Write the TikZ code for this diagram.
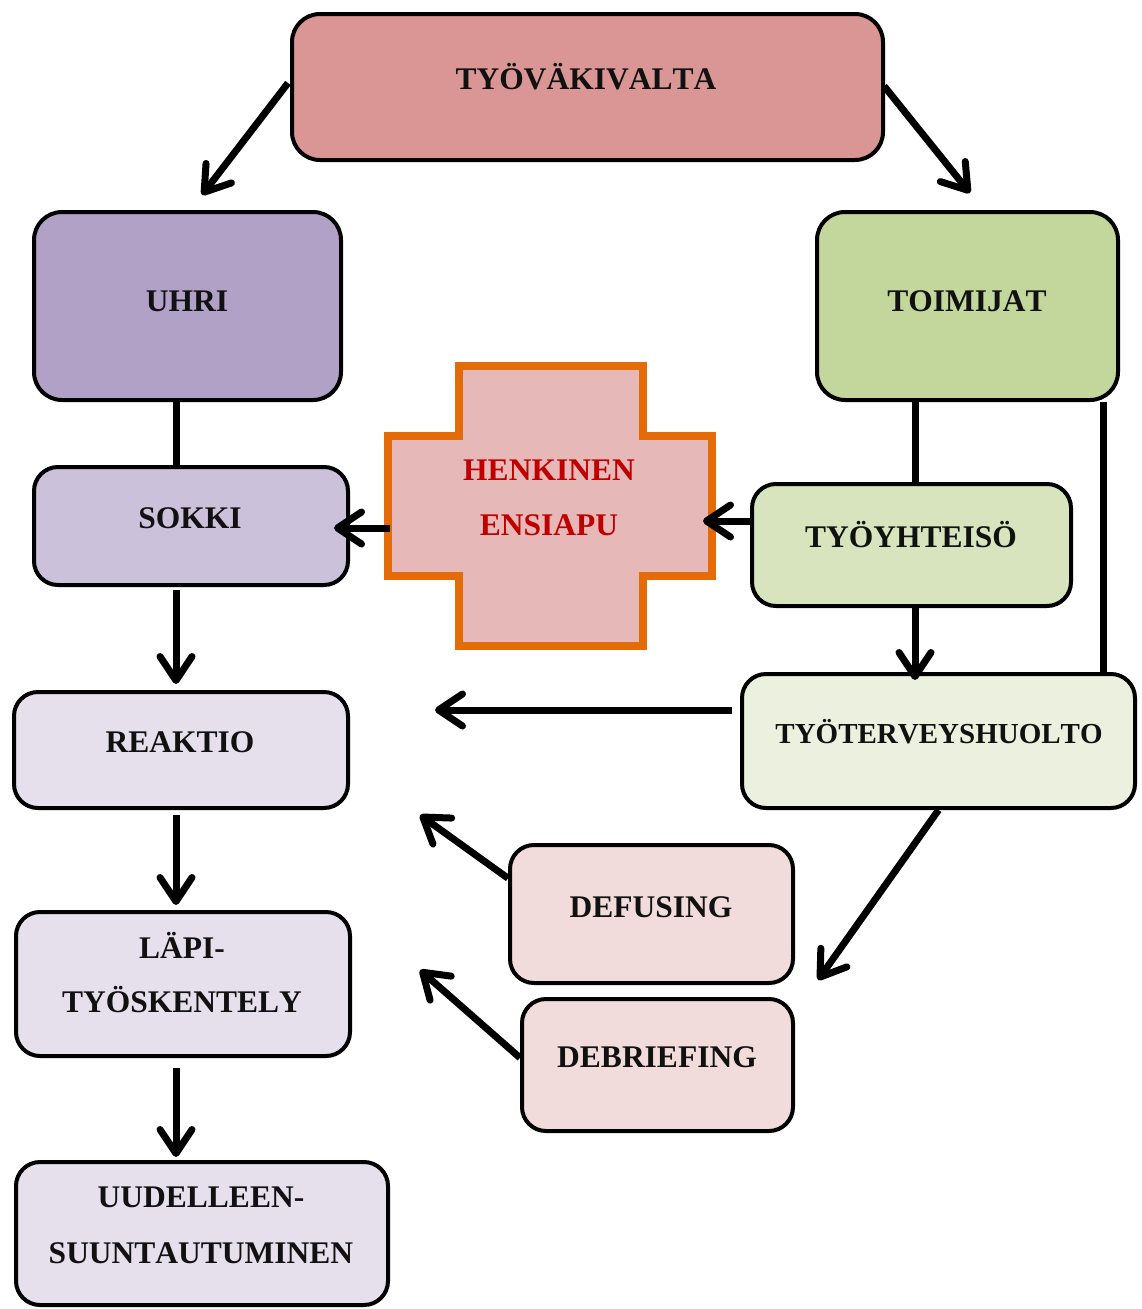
\documentclass[tikz,border=0pt]{standalone}
\usepackage{fontspec}
\setmainfont[Kerning=Off]{Liberation Serif}
\usetikzlibrary{arrows.meta,shadows}
\definecolor{cTop}{HTML}{DA9694}
\definecolor{cUhri}{HTML}{B2A1C7}
\definecolor{cToim}{HTML}{C3D69B}
\definecolor{cSokki}{HTML}{CCC1DA}
\definecolor{cTyoy}{HTML}{D7E4BD}
\definecolor{cTth}{HTML}{EBF1DE}
\definecolor{cLila}{HTML}{E5E0EC}
\definecolor{cRosa}{HTML}{F2DCDB}
\definecolor{cCross}{HTML}{E6B9B8}
\definecolor{cOrange}{HTML}{E36C09}
\definecolor{cRed}{HTML}{C00000}
\definecolor{cTxt}{HTML}{111111}
\begin{document}
\begin{tikzpicture}[x=1pt,y=-1pt,
  box/.style={draw=black, line width=4pt, rounded corners=28pt, inner sep=0pt},
  lbl/.style={anchor=base, font=\bfseries\fontsize{31.5}{38}\selectfont, text=cTxt, inner sep=0pt},
  con/.style={line width=7pt, draw=black},
  arr/.style={con, -{Straight Barb[length=24pt,width=32pt,round]}}
]
\useasboundingbox (0,0) rectangle (1141,1309);

% boxes
\node[box, fill=cTop,   minimum width=591, minimum height=146] (top)  at (587.5,87) {};
\node[box, fill=cUhri,  minimum width=307, minimum height=188] (uhri) at (187.5,306) {};
\node[box, fill=cToim,  minimum width=301, minimum height=188] (toim) at (967.5,306) {};
\node[box, fill=cSokki, minimum width=314, minimum height=118, rounded corners=24pt] (sokki) at (191,526) {};
\node[box, fill=cTyoy,  minimum width=319, minimum height=122, rounded corners=24pt] (tyoy) at (911.5,545) {};
\node[box, fill=cTth,   minimum width=393, minimum height=134, rounded corners=24pt] (tth)  at (938.5,741) {};
\node[box, fill=cLila,  minimum width=334, minimum height=116, rounded corners=24pt] (reak) at (181,750) {};
\node[box, fill=cLila,  minimum width=334, minimum height=144, rounded corners=24pt] (lapi) at (183,984) {};
\node[box, fill=cLila,  minimum width=372, minimum height=143, rounded corners=24pt] (uud)  at (202,1233.5) {};
\node[box, fill=cRosa,  minimum width=283, minimum height=138, rounded corners=24pt] (def)  at (651.5,914) {};
\node[box, fill=cRosa,  minimum width=271, minimum height=132, rounded corners=24pt] (deb)  at (657.5,1065) {};

% cross (henkinen ensiapu)
\draw[draw=cOrange, line width=8pt, fill=cCross, line join=miter,
      drop shadow={shadow xshift=3pt, shadow yshift=-3pt, opacity=0.25}]
  (459,366) -- (643,366) -- (643,436) -- (712,436) -- (712,576) -- (643,576)
  -- (643,646) -- (459,646) -- (459,576) -- (388,576) -- (388,436) -- (459,436) -- cycle;
\coordinate (cxW) at (390,528);
\coordinate (cxE) at (703,521);

% labels
\node[lbl] (topT)  at (586,89)   {TYÖVÄKIVALTA};
\node[lbl] (uhriT) at (187,311)  {UHRI};
\node[lbl] (toimT) at (967,311)  {TOIMIJAT};
\node[lbl] (sokT)  at (190,528)  {SOKKI};
\node[lbl, text=cRed] (henT) at (549,480) {HENKINEN};
\node[lbl, text=cRed] (ensT) at (549,535) {ENSIAPU};
\node[lbl] (tyoyT) at (911,547)  {TYÖYHTEISÖ};
\node[lbl, font=\bfseries\fontsize{29}{35}\selectfont] (tthT) at (939,743) {TYÖTERVEYSHUOLTO};
\node[lbl] (reakT) at (180,752)  {REAKTIO};
\node[lbl] (lapT1) at (182,958)  {LÄPI-};
\node[lbl] (lapT2) at (182,1012) {TYÖSKENTELY};
\node[lbl] (uudT1) at (201,1207) {UUDELLEEN-};
\node[lbl] (uudT2) at (201,1263) {SUUNTAUTUMINEN};
\node[lbl] (defT)  at (651,917)  {DEFUSING};
\node[lbl] (debT)  at (657,1067) {DEBRIEFING};

% helper coordinates
\coordinate (colL) at (176,0);
\coordinate (colR) at (1103,0);
\coordinate (uhriTip) at (202,195);
\coordinate (toimTip) at (970,193);
\coordinate (tthTip) at (435,710);
\coordinate (tthDTip) at (818,980);
\coordinate (defTip) at (420,815);
\coordinate (debTip) at (420,970);
\coordinate (topL) at (288,83);
\coordinate (topR) at (884,86);

% connectors
\draw[arr] (topL) -- (uhriTip);
\draw[arr] (topR) -- (toimTip);
\draw[con] (colL |- uhri.south) -- (colL |- sokki.north);
\draw[arr, shorten <=3pt, shorten >=6pt] (colL |- sokki.south) -- (colL |- reak.north);
\draw[arr, shorten <=5pt, shorten >=5pt] (colL |- reak.south) -- (colL |- lapi.north);
\draw[arr, shorten <=10pt, shorten >=3pt] (colL |- lapi.south) -- (colL |- uud.north);
\draw[arr, shorten >=-16pt] (cxW) -- (sokki.east |- cxW);
\draw[arr] (tyoy.west |- cxE) -- (cxE);
\draw[con] (tyoy.north -| 915,0) -- (toim.south -| 915,0);
\draw[arr, shorten >=-8pt] (tyoy.south -| 915,0) -- (tth.north -| 915,0);
\draw[con] (colR |- toim.south) -- (colR |- tth.north);
\draw[arr, shorten <=8pt] (tth.west |- tthTip) -- (tthTip);
\draw[arr] (tth.south) -- (tthDTip);
\draw[arr] (def.166) -- (defTip);
\draw[arr] (deb.177) -- (debTip);
\end{tikzpicture}
\end{document}
